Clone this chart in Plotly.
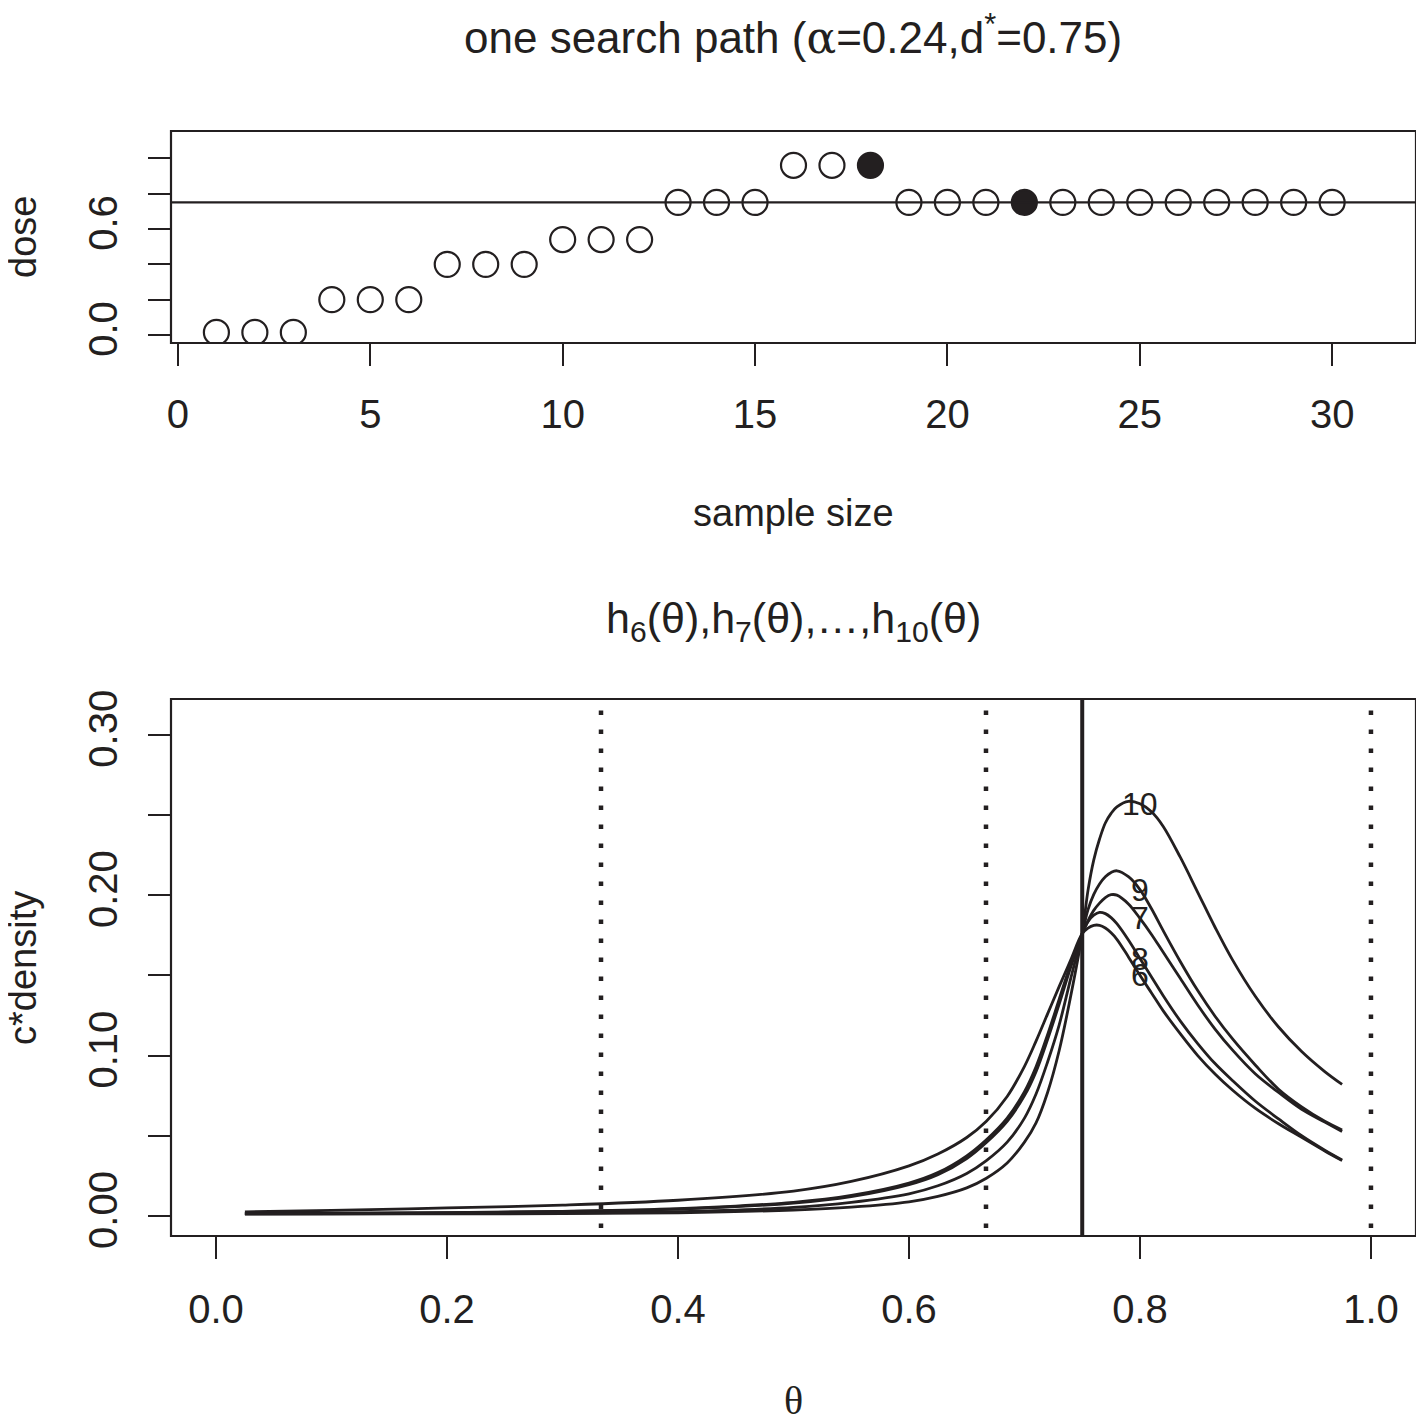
import plotly.graph_objects as go

# ---------------- data ----------------
sample_n = list(range(1, 31))
dose_path = [0.015, 0.015, 0.015, 0.2, 0.2, 0.2, 0.4, 0.4, 0.4, 0.54, 0.54, 0.54,
             0.75, 0.75, 0.75, 0.96, 0.96, 0.96, 0.75, 0.75, 0.75, 0.75, 0.75, 0.75,
             0.75, 0.75, 0.75, 0.75, 0.75, 0.75]
filled_n = [18, 22]
target_dose = 0.75

theta = [0.025, 0.1, 0.2, 0.3, 0.4, 0.5, 0.55, 0.6, 0.625, 0.65, 0.667, 0.685, 0.7, 0.71,
         0.72, 0.73, 0.74, 0.75, 0.755, 0.76, 0.765, 0.77, 0.775, 0.78, 0.79, 0.8, 0.81,
         0.82, 0.835, 0.85, 0.865, 0.88, 0.9, 0.92, 0.94, 0.96, 0.975]
h6 = [0.0025, 0.0035, 0.0050, 0.0068, 0.0098, 0.0155, 0.0215, 0.0312, 0.0386, 0.0489, 0.0590,
      0.0745, 0.0933, 0.109, 0.126, 0.143, 0.1595, 0.176,
      0.1795, 0.1812, 0.1812, 0.1795, 0.1765, 0.1725, 0.1615, 0.150, 0.139, 0.128, 0.1135,
      0.100, 0.0885, 0.0785, 0.067, 0.0575, 0.049, 0.0405, 0.0345]
h7 = [0.0015, 0.0016, 0.0020, 0.0028, 0.0042, 0.0080, 0.0120, 0.0195, 0.0257, 0.0358, 0.0458,
      0.059, 0.075, 0.090, 0.110, 0.132, 0.155, 0.176,
      0.184, 0.1905, 0.195, 0.1985, 0.2003, 0.200, 0.1945, 0.1855, 0.1755, 0.1645, 0.148,
      0.1315, 0.1165, 0.1035, 0.0885, 0.077, 0.0665, 0.0585, 0.0526]
h8 = [0.0016, 0.0017, 0.0021, 0.0029, 0.0045, 0.0085, 0.0128, 0.0205, 0.027, 0.0375, 0.0475,
      0.061, 0.0775, 0.093, 0.113, 0.135, 0.157, 0.176,
      0.1835, 0.1875, 0.1893, 0.1885, 0.186, 0.1822, 0.172, 0.1605, 0.149, 0.1375, 0.1215,
      0.1075, 0.095, 0.0845, 0.0715, 0.0605, 0.050, 0.041, 0.0349]
h9 = [0.0013, 0.0014, 0.0016, 0.0019, 0.0027, 0.0054, 0.0085, 0.0138, 0.0188, 0.0265, 0.0345,
      0.046, 0.061, 0.076, 0.096, 0.119, 0.148, 0.176,
      0.191, 0.2005, 0.207, 0.2115, 0.2142, 0.2152, 0.2115, 0.2035, 0.1915, 0.178, 0.1585,
      0.1405, 0.1245, 0.1105, 0.094, 0.079, 0.068, 0.059, 0.0536]
h10 = [0.0012, 0.0012, 0.0013, 0.0015, 0.0020, 0.0037, 0.0055, 0.0088, 0.0122, 0.0175, 0.0235,
       0.033, 0.046, 0.058, 0.077, 0.103, 0.137, 0.176,
       0.203, 0.222, 0.235, 0.245, 0.251, 0.255, 0.2585, 0.257, 0.252, 0.243, 0.2235, 0.2018,
       0.180, 0.1598, 0.1368, 0.1178, 0.1025, 0.090, 0.082]
curve_names = ["6", "7", "8", "9", "10"]
curves = [h6, h7, h8, h9, h10]
label_theta = 0.8
dotted_cuts = [1 / 3, 2 / 3, 1.0]
d_star = 0.75

top_xticks = [0, 5, 10, 15, 20, 25, 30]
top_yticks = [0.0, 0.2, 0.4, 0.6, 0.8, 1.0]
top_yticktext = ["0.0", "", "", "0.6", "", ""]
bot_xticks = [0.0, 0.2, 0.4, 0.6, 0.8, 1.0]
bot_xticktext = ["0.0", "0.2", "0.4", "0.6", "0.8", "1.0"]
bot_yticks = [0.0, 0.05, 0.10, 0.15, 0.20, 0.25, 0.30]
bot_yticktext = ["0.00", "", "0.10", "", "0.20", "", "0.30"]

# ---------------- figure ----------------
INK = "#231f20"
FONT = "Liberation Sans, Arial, sans-serif"
W, H = 1424, 1420
OFF = 8  # page body margin in the browser


def px(x):
    return (x - OFF) / W


def py(y):
    return 1 - (y - OFF) / H


fig = go.Figure()

# top panel points
open_x = [n for n in sample_n if n not in filled_n]
open_y = [d for n, d in zip(sample_n, dose_path) if n not in filled_n]
fill_x = [n for n in sample_n if n in filled_n]
fill_y = [d for n, d in zip(sample_n, dose_path) if n in filled_n]
fig.add_trace(go.Scatter(x=open_x, y=open_y, mode="markers", xaxis="x", yaxis="y",
                         marker=dict(symbol="circle", size=25, color="white",
                                     line=dict(color=INK, width=2.2)),
                         showlegend=False, hoverinfo="skip"))
fig.add_trace(go.Scatter(x=fill_x, y=fill_y, mode="markers", xaxis="x", yaxis="y",
                         marker=dict(symbol="circle", size=25, color=INK,
                                     line=dict(color=INK, width=2.2)),
                         showlegend=False, hoverinfo="skip"))

# bottom curves
for name, h in zip(curve_names, curves):
    fig.add_trace(go.Scatter(x=theta, y=h, mode="lines", xaxis="x2", yaxis="y2",
                             line=dict(color=INK, width=2.8, shape="spline", smoothing=1.0),
                             showlegend=False, hoverinfo="skip", name=name))
    fig.add_annotation(x=label_theta, y=h[theta.index(label_theta)], xref="x2", yref="y2",
                       text=name, showarrow=False,
                       font=dict(family=FONT, size=32, color=INK))

# horizontal target line (top)
fig.add_shape(type="line", xref="x domain", yref="y", x0=0, x1=1, y0=target_dose, y1=target_dose,
              line=dict(color=INK, width=2.2))
# vertical lines (bottom)
for c in dotted_cuts:
    fig.add_shape(type="line", xref="x2", yref="y2 domain", x0=c, x1=c, y0=0.015, y1=0.985,
                  line=dict(color=INK, width=4.5, dash="4.5px,14.5px"))
fig.add_shape(type="line", xref="x2", yref="y2 domain", x0=d_star, x1=d_star, y0=0, y1=1,
              line=dict(color=INK, width=4))

# panel boxes
fig.add_shape(type="rect", xref="x domain", yref="y domain", x0=0, x1=1, y0=0, y1=1,
              line=dict(color=INK, width=2.2))
fig.add_shape(type="rect", xref="x2 domain", yref="y2 domain", x0=0, x1=1, y0=0, y1=1,
              line=dict(color=INK, width=2.2))

axis_common = dict(showgrid=False, zeroline=False, showline=False, ticks="outside",
                   ticklen=22, tickwidth=2.2, tickcolor=INK, automargin=False,
                   tickfont=dict(family=FONT, size=40, color=INK))

x_dom = [px(171), px(1416)]
fig.update_layout(
    template="none",
    width=W, height=H, margin=dict(l=0, r=0, t=0, b=0, pad=0, autoexpand=False),
    paper_bgcolor="white", plot_bgcolor="white", showlegend=False,
    xaxis=dict(domain=x_dom, range=[-0.18, 32.18], tickvals=top_xticks,
               ticklabelstandoff=14, anchor="y", **axis_common),
    yaxis=dict(domain=[py(343), py(131)], range=[-0.045, 1.154], tickvals=top_yticks,
               ticktext=top_yticktext, tickangle=-90, ticklabelstandoff=15,
               anchor="x", **axis_common),
    xaxis2=dict(domain=x_dom, range=[-0.039, 1.039], tickvals=bot_xticks,
                ticktext=bot_xticktext, ticklabelstandoff=16, anchor="y2", **axis_common),
    yaxis2=dict(domain=[py(1236), py(699)], range=[-0.0125, 0.3223], tickvals=bot_yticks,
                ticktext=bot_yticktext, tickangle=-90, ticklabelstandoff=15,
                anchor="x2", **axis_common),
)


def text(x, y, s, size=40, angle=0, family=FONT):
    fig.add_annotation(x=px(x), y=py(y), xref="paper", yref="paper", text=s,
                       showarrow=False, textangle=angle,
                       font=dict(family=family, size=size, color=INK),
                       xanchor="center", yanchor="middle")


text(793, 35, "one search path (<span style='font-family:DejaVu Serif'>α</span>=0.24,d<sup>*</sup>=0.75)", size=44)
text(793, 513, "sample size", size=38)
text(23, 237, "dose", size=38, angle=-90)
text(793, 621, "h<sub>6</sub>(θ),h<sub>7</sub>(θ),…,h<sub>10</sub>(θ)", size=43)
text(793, 1400, "θ", family="Liberation Serif, DejaVu Serif, serif")
text(23, 968, "c*density", size=38, angle=-90)

fig.write_html("out.html")
